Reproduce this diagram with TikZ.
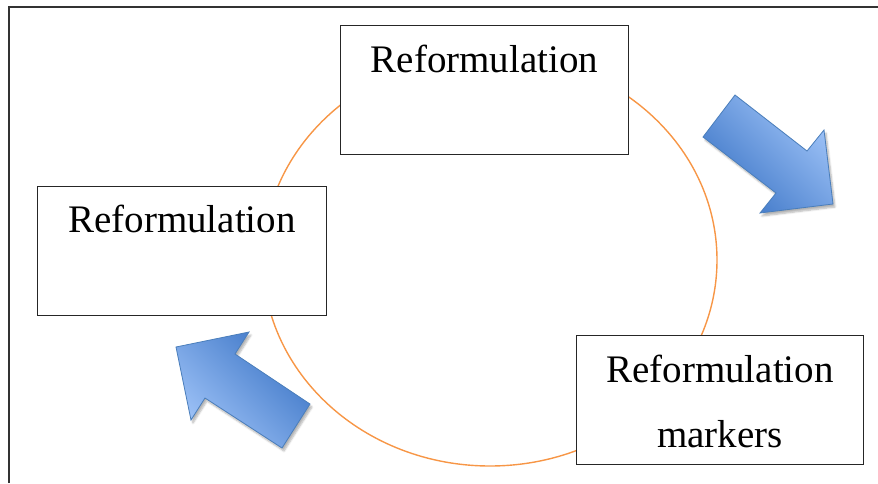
\documentclass[tikz,border=0pt]{standalone}
\usepackage{fontspec}
\setmainfont{Liberation Serif}
\usetikzlibrary{shadows.blur}
\definecolor{cycleorange}{HTML}{F79646}
\definecolor{arrowlight}{HTML}{A0C4F8}
\definecolor{arrowdark}{HTML}{3C75C6}
\definecolor{arrowedge}{HTML}{4A7EBB}
\begin{document}
\begin{tikzpicture}[x=1pt,y=-1pt,
  stagebox/.style={draw=black!85, line width=1.1pt, fill=white, inner sep=0pt,
    anchor=north west, align=center, font=\fontsize{39}{65}\selectfont},
  blockarrow/.style={draw=arrowedge, line width=0.8pt, line join=miter,
    blur shadow={shadow xshift=2pt, shadow yshift=-3pt, shadow blur steps=6, shadow opacity=30}}]
  \useasboundingbox (0,0) rectangle (878,483);

  % page frame (left and top edges only)
  \draw[line width=2pt, black!80] (9,483) -- (9,7) -- (878,7);

  % cycle path behind the stages
  \draw[cycleorange, line width=1.4pt] (490,260) ellipse [x radius=227, y radius=206];

  % stages
  \node[stagebox, minimum width=288pt, text height=47pt, text depth=82pt]
    (top) at (340,25) {Reformulation};
  \node[stagebox, minimum width=289pt, text height=46pt, text depth=83pt]
    (left) at (37,186) {Reformulation};
  \node[stagebox, minimum width=287pt, text height=112pt, text depth=17pt]
    (markers) at (576,335) {Reformulation\\markers};

  % direction arrows
  \draw[blockarrow, top color=arrowlight, bottom color=arrowdark, shading angle=-45]
    (735,95) -- (807,151) -- (824,130) -- (833,204) -- (760,213) -- (776,193) -- (703,137) -- cycle;
  \draw[blockarrow, top color=arrowlight, bottom color=arrowdark, shading angle=135]
    (176,347) -- (249,332) -- (235,354) -- (310,404) -- (282,448) -- (205,398) -- (191,420) -- cycle;
\end{tikzpicture}
\end{document}
